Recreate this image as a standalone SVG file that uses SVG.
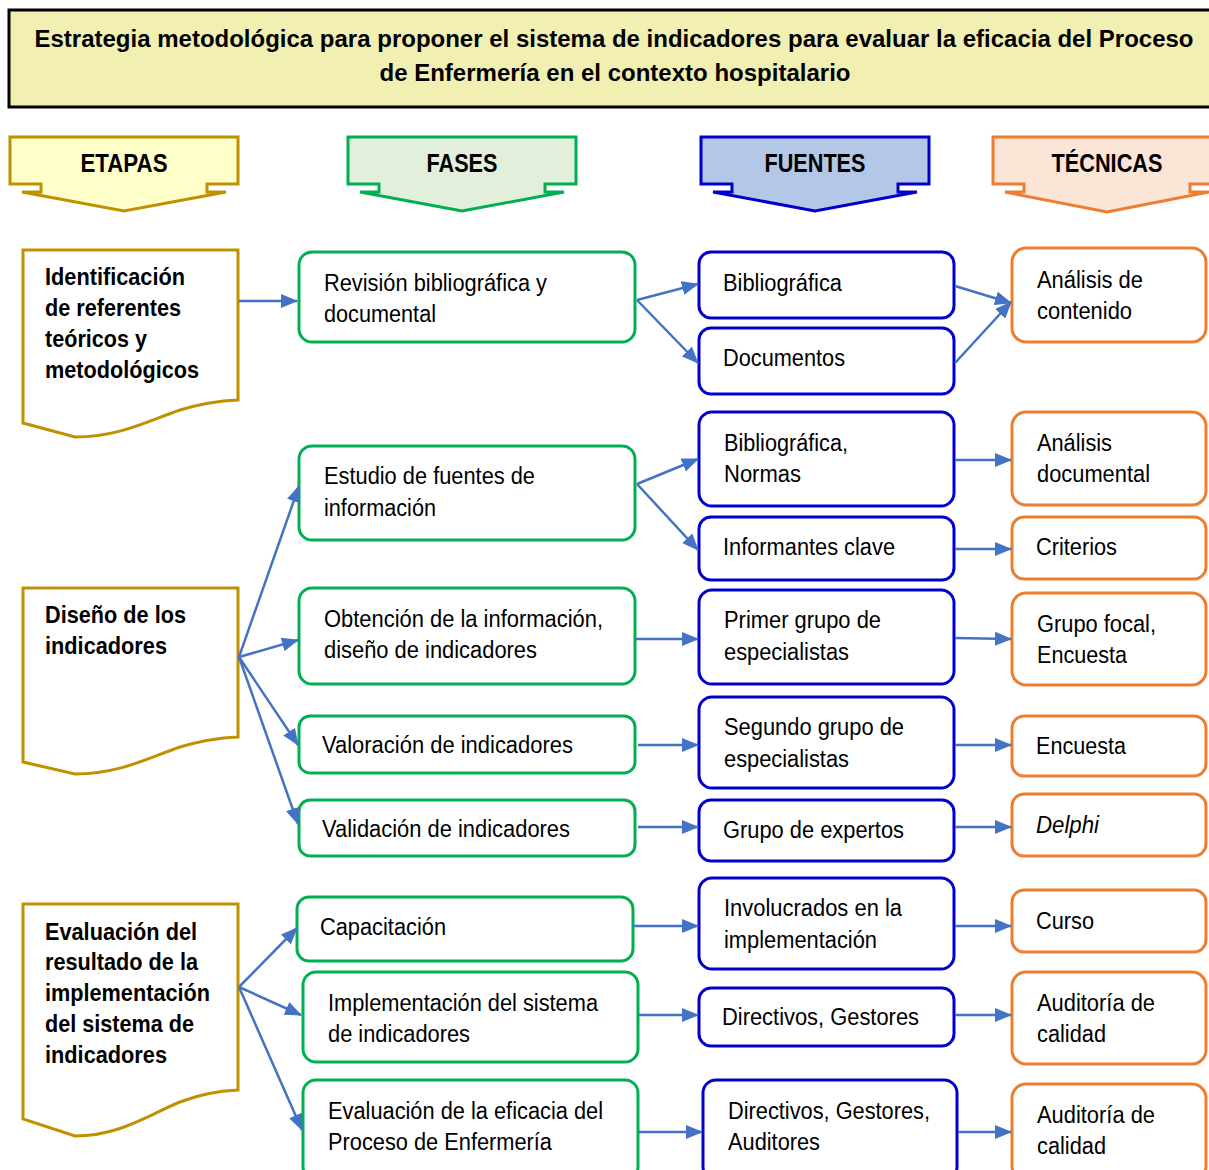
<svg xmlns="http://www.w3.org/2000/svg" width="1209" height="1170" viewBox="0 0 1209 1170">
<style>
text{font-family:"Liberation Sans Narrow","Arial Narrow","Liberation Sans",Arial,sans-serif;fill:#000}
.t{font-size:23px}
.b{font-size:23px;font-weight:bold}
.h{font-size:25px;font-weight:bold;text-anchor:middle}
.title{font-size:23px;font-weight:bold;text-anchor:middle}
.doc{fill:#fff;stroke:#bf9000;stroke-width:3}
.g{fill:#fff;stroke:#00b050;stroke-width:3}
.bl{fill:#fff;stroke:#0000cc;stroke-width:3}
.o{fill:#fff;stroke:#ed7d31;stroke-width:3}
.c{fill:none;stroke:#4472c4;stroke-width:2.5}
</style>
<defs>
<marker id="ah" markerUnits="userSpaceOnUse" markerWidth="18" markerHeight="14" refX="16" refY="7" orient="auto">
<path d="M0,0 L17,7 L0,14 Z" fill="#4472c4"/>
</marker>
</defs>
<rect width="1209" height="1170" fill="#fff"/>
<g id="title">
<rect x="9" y="10" width="1210" height="97" fill="#f1efb2" stroke="#000" stroke-width="3"/>
<text class="title" x="614" y="47" textLength="1159" lengthAdjust="spacingAndGlyphs">Estrategia metodológica para proponer el sistema de indicadores para evaluar la eficacia del Proceso</text>
<text class="title" x="615" y="81" textLength="471" lengthAdjust="spacingAndGlyphs">de Enfermería en el contexto hospitalario</text>
</g>
<g id="h-etapas">
<path d="M10,137 H238 V184 H207 V192 H226 L124,211 L22,192 H41 V184 H10 Z" fill="#ffffc9" stroke="#bf9000" stroke-width="3"/>
<text class="h" x="124" y="172" textLength="87" lengthAdjust="spacingAndGlyphs">ETAPAS</text>
</g>
<g id="h-fases">
<path d="M348,137 H576 V184 H545 V192 H564 L462,211 L360,192 H379 V184 H348 Z" fill="#e2efda" stroke="#00b050" stroke-width="3"/>
<text class="h" x="462" y="172" textLength="71" lengthAdjust="spacingAndGlyphs">FASES</text>
</g>
<g id="h-fuentes">
<path d="M701,137 H929 V184 H898 V192 H917 L815,211 L713,192 H732 V184 H701 Z" fill="#b4c7e7" stroke="#0000cc" stroke-width="3"/>
<text class="h" x="815" y="172" textLength="101" lengthAdjust="spacingAndGlyphs">FUENTES</text>
</g>
<g id="h-tecnicas">
<path d="M993,137 H1221 V184 H1190 V192 H1209 L1107,212 L1005,192 H1024 V184 H993 Z" fill="#fbe5d6" stroke="#ed7d31" stroke-width="3"/>
<text class="h" x="1107" y="172" textLength="111" lengthAdjust="spacingAndGlyphs">TÉCNICAS</text>
</g>
<g id="e1">
<path class="doc" d="M23,250 H238 V400 C215,401 200,404 180,410 C150,420 120,437 75,437 L23,423 Z"/>
<text class="b" x="45" y="285" textLength="140" lengthAdjust="spacingAndGlyphs">Identificación</text>
<text class="b" x="45" y="316" textLength="136" lengthAdjust="spacingAndGlyphs">de referentes</text>
<text class="b" x="45" y="347" textLength="102" lengthAdjust="spacingAndGlyphs">teóricos y</text>
<text class="b" x="45" y="378" textLength="154" lengthAdjust="spacingAndGlyphs">metodológicos</text>
</g>
<g id="e2">
<path class="doc" d="M23,588 H238 V737 C215,738 200,741 180,747 C150,757 120,774 75,774 L23,762 Z"/>
<text class="b" x="45" y="623" textLength="141" lengthAdjust="spacingAndGlyphs">Diseño de los</text>
<text class="b" x="45" y="654" textLength="122" lengthAdjust="spacingAndGlyphs">indicadores</text>
</g>
<g id="e3">
<path class="doc" d="M23,904 H238 V1090 C215,1091 200,1095 180,1102 C150,1114 120,1136 75,1136 L23,1119 Z"/>
<text class="b" x="45" y="940" textLength="152" lengthAdjust="spacingAndGlyphs">Evaluación del</text>
<text class="b" x="45" y="970" textLength="153" lengthAdjust="spacingAndGlyphs">resultado de la</text>
<text class="b" x="45" y="1001" textLength="165" lengthAdjust="spacingAndGlyphs">implementación</text>
<text class="b" x="45" y="1032" textLength="149" lengthAdjust="spacingAndGlyphs">del sistema de</text>
<text class="b" x="45" y="1063" textLength="122" lengthAdjust="spacingAndGlyphs">indicadores</text>
</g>
<g id="f1"><rect class="g" x="299" y="252" width="336" height="90" rx="13"/><text class="t" x="324" y="291" textLength="223" lengthAdjust="spacingAndGlyphs">Revisión bibliográfica y</text><text class="t" x="324" y="322" textLength="112" lengthAdjust="spacingAndGlyphs">documental</text></g>
<g id="f2"><rect class="g" x="299" y="446" width="336" height="94" rx="13"/><text class="t" x="324" y="484" textLength="211" lengthAdjust="spacingAndGlyphs">Estudio de fuentes de</text><text class="t" x="324" y="516" textLength="112" lengthAdjust="spacingAndGlyphs">información</text></g>
<g id="f3"><rect class="g" x="299" y="588" width="336" height="96" rx="13"/><text class="t" x="324" y="627" textLength="279" lengthAdjust="spacingAndGlyphs">Obtención de la información,</text><text class="t" x="324" y="658" textLength="213" lengthAdjust="spacingAndGlyphs">diseño de indicadores</text></g>
<g id="f4"><rect class="g" x="299" y="716" width="336" height="57" rx="11"/><text class="t" x="322" y="753" textLength="251" lengthAdjust="spacingAndGlyphs">Valoración de indicadores</text></g>
<g id="f5"><rect class="g" x="299" y="800" width="336" height="56" rx="11"/><text class="t" x="322" y="837" textLength="248" lengthAdjust="spacingAndGlyphs">Validación de indicadores</text></g>
<g id="f6"><rect class="g" x="297" y="897" width="336" height="64" rx="12"/><text class="t" x="320" y="935" textLength="126" lengthAdjust="spacingAndGlyphs">Capacitación</text></g>
<g id="f7"><rect class="g" x="303" y="972" width="335" height="90" rx="13"/><text class="t" x="328" y="1011" textLength="270" lengthAdjust="spacingAndGlyphs">Implementación del sistema</text><text class="t" x="328" y="1042" textLength="142" lengthAdjust="spacingAndGlyphs">de indicadores</text></g>
<g id="f8"><rect class="g" x="303" y="1080" width="335" height="100" rx="13"/><text class="t" x="328" y="1119" textLength="275" lengthAdjust="spacingAndGlyphs">Evaluación de la eficacia del</text><text class="t" x="328" y="1150" textLength="224" lengthAdjust="spacingAndGlyphs">Proceso de Enfermería</text></g>
<g id="s1"><rect class="bl" x="699" y="252" width="255" height="66" rx="12"/><text class="t" x="723" y="291" textLength="119" lengthAdjust="spacingAndGlyphs">Bibliográfica</text></g>
<g id="s2"><rect class="bl" x="699" y="328" width="255" height="66" rx="12"/><text class="t" x="723" y="366" textLength="122" lengthAdjust="spacingAndGlyphs">Documentos</text></g>
<g id="s3"><rect class="bl" x="699" y="412" width="255" height="94" rx="13"/><text class="t" x="724" y="451" textLength="124" lengthAdjust="spacingAndGlyphs">Bibliográfica,</text><text class="t" x="724" y="482" textLength="77" lengthAdjust="spacingAndGlyphs">Normas</text></g>
<g id="s4"><rect class="bl" x="699" y="517" width="255" height="63" rx="12"/><text class="t" x="723" y="555" textLength="172" lengthAdjust="spacingAndGlyphs">Informantes clave</text></g>
<g id="s5"><rect class="bl" x="699" y="590" width="255" height="94" rx="13"/><text class="t" x="724" y="628" textLength="157" lengthAdjust="spacingAndGlyphs">Primer grupo de</text><text class="t" x="724" y="660" textLength="125" lengthAdjust="spacingAndGlyphs">especialistas</text></g>
<g id="s6"><rect class="bl" x="699" y="697" width="255" height="91" rx="13"/><text class="t" x="724" y="735" textLength="180" lengthAdjust="spacingAndGlyphs">Segundo grupo de</text><text class="t" x="724" y="767" textLength="125" lengthAdjust="spacingAndGlyphs">especialistas</text></g>
<g id="s7"><rect class="bl" x="699" y="800" width="255" height="61" rx="12"/><text class="t" x="723" y="838" textLength="181" lengthAdjust="spacingAndGlyphs">Grupo de expertos</text></g>
<g id="s8"><rect class="bl" x="699" y="878" width="255" height="91" rx="13"/><text class="t" x="724" y="916" textLength="178" lengthAdjust="spacingAndGlyphs">Involucrados en la</text><text class="t" x="724" y="948" textLength="153" lengthAdjust="spacingAndGlyphs">implementación</text></g>
<g id="s9"><rect class="bl" x="699" y="988" width="255" height="58" rx="12"/><text class="t" x="722" y="1025" textLength="197" lengthAdjust="spacingAndGlyphs">Directivos, Gestores</text></g>
<g id="s10"><rect class="bl" x="703" y="1080" width="254" height="100" rx="13"/><text class="t" x="728" y="1119" textLength="202" lengthAdjust="spacingAndGlyphs">Directivos, Gestores,</text><text class="t" x="728" y="1150" textLength="92" lengthAdjust="spacingAndGlyphs">Auditores</text></g>
<g id="k1"><rect class="o" x="1012" y="248" width="194" height="94" rx="14"/><text class="t" x="1037" y="288" textLength="106" lengthAdjust="spacingAndGlyphs">Análisis de</text><text class="t" x="1037" y="319" textLength="95" lengthAdjust="spacingAndGlyphs">contenido</text></g>
<g id="k2"><rect class="o" x="1012" y="412" width="194" height="93" rx="14"/><text class="t" x="1037" y="451" textLength="75" lengthAdjust="spacingAndGlyphs">Análisis</text><text class="t" x="1037" y="482" textLength="113" lengthAdjust="spacingAndGlyphs">documental</text></g>
<g id="k3"><rect class="o" x="1012" y="517" width="194" height="62" rx="12"/><text class="t" x="1036" y="555" textLength="81" lengthAdjust="spacingAndGlyphs">Criterios</text></g>
<g id="k4"><rect class="o" x="1012" y="593" width="194" height="92" rx="14"/><text class="t" x="1037" y="632" textLength="119" lengthAdjust="spacingAndGlyphs">Grupo focal,</text><text class="t" x="1037" y="663" textLength="90" lengthAdjust="spacingAndGlyphs">Encuesta</text></g>
<g id="k5"><rect class="o" x="1012" y="716" width="194" height="60" rx="12"/><text class="t" x="1036" y="754" textLength="90" lengthAdjust="spacingAndGlyphs">Encuesta</text></g>
<g id="k6"><rect class="o" x="1012" y="794" width="194" height="62" rx="12"/><text class="t" x="1036" y="833" font-style="italic" textLength="63" lengthAdjust="spacingAndGlyphs">Delphi</text></g>
<g id="k7"><rect class="o" x="1012" y="890" width="194" height="62" rx="12"/><text class="t" x="1036" y="929" textLength="58" lengthAdjust="spacingAndGlyphs">Curso</text></g>
<g id="k8"><rect class="o" x="1012" y="972" width="194" height="92" rx="14"/><text class="t" x="1037" y="1011" textLength="118" lengthAdjust="spacingAndGlyphs">Auditoría de</text><text class="t" x="1037" y="1042" textLength="69" lengthAdjust="spacingAndGlyphs">calidad</text></g>
<g id="k9"><rect class="o" x="1012" y="1084" width="194" height="96" rx="14"/><text class="t" x="1037" y="1123" textLength="118" lengthAdjust="spacingAndGlyphs">Auditoría de</text><text class="t" x="1037" y="1154" textLength="69" lengthAdjust="spacingAndGlyphs">calidad</text></g>
<g id="connectors">
<line class="c" x1="239" y1="301" x2="297" y2="301" marker-end="url(#ah)"/>
<line class="c" x1="637" y1="300" x2="698" y2="284" marker-end="url(#ah)"/>
<line class="c" x1="637" y1="300" x2="698" y2="363" marker-end="url(#ah)"/>
<line class="c" x1="955" y1="286" x2="1011" y2="303" marker-end="url(#ah)"/>
<line class="c" x1="955" y1="363" x2="1011" y2="302" marker-end="url(#ah)"/>
<line class="c" x1="239" y1="657" x2="299" y2="486" marker-end="url(#ah)"/>
<line class="c" x1="239" y1="657" x2="298" y2="640" marker-end="url(#ah)"/>
<line class="c" x1="239" y1="657" x2="298" y2="745" marker-end="url(#ah)"/>
<line class="c" x1="239" y1="657" x2="298" y2="824" marker-end="url(#ah)"/>
<line class="c" x1="637" y1="484" x2="698" y2="459" marker-end="url(#ah)"/>
<line class="c" x1="637" y1="484" x2="698" y2="550" marker-end="url(#ah)"/>
<line class="c" x1="955" y1="460" x2="1011" y2="460" marker-end="url(#ah)"/>
<line class="c" x1="955" y1="549" x2="1011" y2="549" marker-end="url(#ah)"/>
<line class="c" x1="636" y1="639" x2="698" y2="639" marker-end="url(#ah)"/>
<line class="c" x1="955" y1="638" x2="1011" y2="639" marker-end="url(#ah)"/>
<line class="c" x1="638" y1="745" x2="698" y2="745" marker-end="url(#ah)"/>
<line class="c" x1="955" y1="745" x2="1011" y2="745" marker-end="url(#ah)"/>
<line class="c" x1="638" y1="827" x2="698" y2="827" marker-end="url(#ah)"/>
<line class="c" x1="955" y1="827" x2="1011" y2="827" marker-end="url(#ah)"/>
<line class="c" x1="239" y1="987" x2="297" y2="928" marker-end="url(#ah)"/>
<line class="c" x1="239" y1="987" x2="301" y2="1015" marker-end="url(#ah)"/>
<line class="c" x1="239" y1="987" x2="302" y2="1130" marker-end="url(#ah)"/>
<line class="c" x1="634" y1="926" x2="698" y2="926" marker-end="url(#ah)"/>
<line class="c" x1="955" y1="926" x2="1011" y2="926" marker-end="url(#ah)"/>
<line class="c" x1="639" y1="1015" x2="698" y2="1015" marker-end="url(#ah)"/>
<line class="c" x1="955" y1="1015" x2="1011" y2="1015" marker-end="url(#ah)"/>
<line class="c" x1="639" y1="1132" x2="702" y2="1132" marker-end="url(#ah)"/>
<line class="c" x1="958" y1="1132" x2="1011" y2="1132" marker-end="url(#ah)"/>
</g>
</svg>
